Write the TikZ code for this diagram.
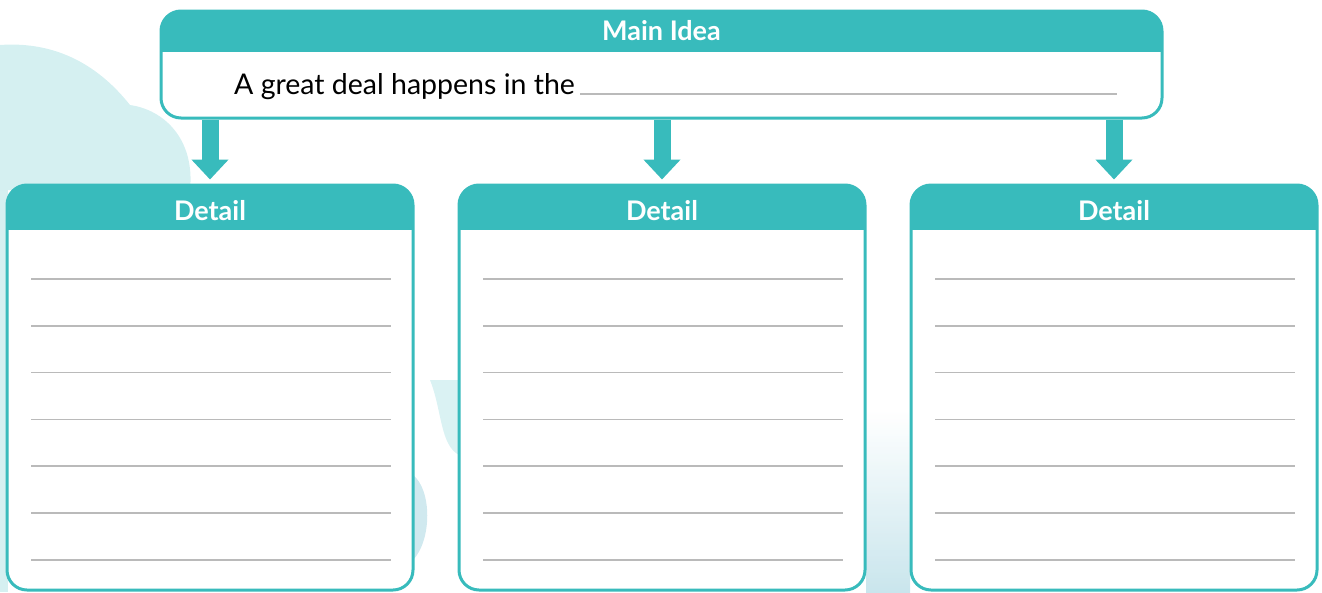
\documentclass[tikz,border=0pt]{standalone}
\usepackage{fontspec}
\setmainfont{Lato}
\usetikzlibrary{arrows.meta, positioning}
\definecolor{ideateal}{HTML}{38BBBC}
\definecolor{wash}{HTML}{CBECEE}
\definecolor{bluewash}{HTML}{BCDFE8}
\tikzstyle{panel}=[draw=ideateal, line width=3pt, fill=white, rounded corners=20pt]
\tikzstyle{mainbox}=[panel, minimum width=1001pt, minimum height=107pt,
  path picture={\fill[ideateal, sharp corners] (path picture bounding box.north west) rectangle ([yshift=-41pt]path picture bounding box.north east);}]
\tikzstyle{detailbox}=[panel, minimum width=406pt, minimum height=405pt,
  path picture={\fill[ideateal, sharp corners] (path picture bounding box.north west) rectangle ([yshift=-45pt]path picture bounding box.north east);}]
\tikzstyle{headtext}=[text=white, font=\bfseries\fontsize{27}{27}\selectfont]
\tikzstyle{ruleline}=[draw=black!27, line width=1.6pt]
\tikzstyle{down}=[draw=ideateal, line width=17pt, -{Triangle[width=36pt,length=20pt]}, shorten >=4pt]

\begin{document}
\begin{tikzpicture}[x=1pt, y=-1pt]
  \useasboundingbox (0,0) rectangle (1322,592);

  % soft watercolour washes behind the boxes
  \fill[wash, opacity=.8] (0,45) .. controls (70,40) and (110,80) .. (130,105)
        .. controls (165,110) and (195,140) .. (190,190) -- (0,190) -- cycle;
  \fill[wash, opacity=.8] (0,190) -- (8,190) -- (8,592) -- (0,592) -- cycle;
  \fill[wash, opacity=.7] (430,380) -- (459,380) -- (459,455)
        .. controls (440,445) and (442,410) .. (430,380) -- cycle;
  \fill[bluewash, opacity=.7] (413,475) .. controls (432,490) and (432,540) .. (413,560) -- cycle;
  \shade[top color=white, bottom color=bluewash, opacity=.8] (866,410) rectangle (910,592);

  % main idea box
  \node[mainbox] (main) at (661.5,64.5) {};
  \node[headtext] (mainhead) at ([yshift=-21pt]main.north) {Main Idea};
  \node[anchor=base west, inner sep=0pt, font=\fontsize{28.5}{28.5}\selectfont] (lead) at (234,94) {A great deal happens in the};
  \draw[ruleline, line width=1.3pt] ([xshift=5pt]lead.base east) -- ([xshift=-47pt]main.east |- lead.base);

  % detail boxes
  \node[detailbox] (d1) at (210,387.5) {};
  \node[detailbox, right=43pt of d1] (d2) {};
  \node[detailbox, right=43pt of d2] (d3) {};

  \foreach \i in {1,2,3} {
    \node[headtext] (dhead\i) at ([yshift=-27pt]d\i.north) {Detail};
    \foreach \k in {0,...,6}
      \draw[ruleline] ([xshift=25.5pt, yshift={-95.5pt-\k*46.8pt}]d\i.north west)
                   -- ([xshift=-23.5pt, yshift={-95.5pt-\k*46.8pt}]d\i.north east);
    \draw[down] (d\i.north |- main.south) -- (d\i.north);
  }
\end{tikzpicture}
\end{document}
